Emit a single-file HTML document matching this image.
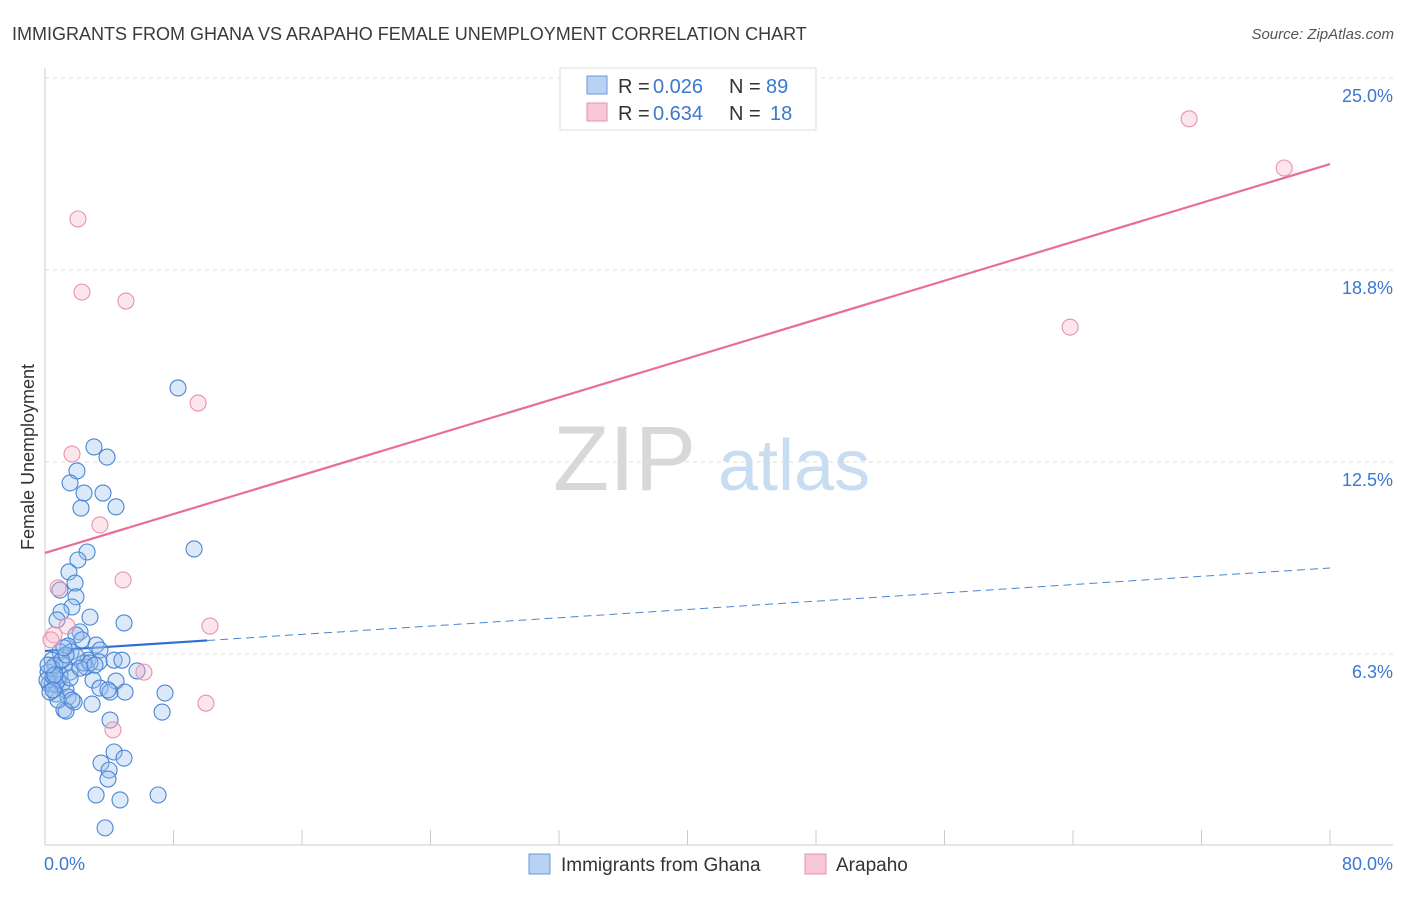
<!DOCTYPE html>
<html><head><meta charset="utf-8"><style>
body{margin:0;background:#fff;font-family:"Liberation Sans",sans-serif;}
svg text{font-family:"Liberation Sans",sans-serif;}
</style></head><body>
<svg id="chart" width="1406" height="892" xmlns="http://www.w3.org/2000/svg">
<text x="12" y="40" font-size="18" fill="#3a3a3a">IMMIGRANTS FROM GHANA VS ARAPAHO FEMALE UNEMPLOYMENT CORRELATION CHART</text>
<text x="1394" y="39" font-size="15" fill="#555" text-anchor="end" font-style="italic">Source: ZipAtlas.com</text>
<g>
<text x="553" y="490" font-size="92" fill="#d8d8d8" font-family="Liberation Serif">ZIP</text>
<text x="718" y="490" font-size="72" fill="#c8dcf2">atlas</text>
</g>
<g id="grid"></g>
<g id="axes"></g>
<g id="lines"></g>
<g id="pts"></g>
<text transform="translate(34,457) rotate(-90)" font-size="18" fill="#333" text-anchor="middle">Female Unemployment</text>
<g>
<rect x="560" y="68" width="256" height="62" fill="#fff" stroke="#ddd"/>
<rect x="587" y="76" width="20" height="18" fill="#b8d2f4" stroke="#6a9ad8"/>
<rect x="587" y="103" width="20" height="18" fill="#f8c8d6" stroke="#e890aa"/>
<text x="618" y="93" font-size="20" fill="#333">R =</text>
<text x="653" y="93" font-size="20" fill="#3b78d0">0.026</text>
<text x="729" y="93" font-size="20" fill="#333">N =</text>
<text x="766" y="93" font-size="20" fill="#3b78d0">89</text>
<text x="618" y="120" font-size="20" fill="#333">R =</text>
<text x="653" y="120" font-size="20" fill="#3b78d0">0.634</text>
<text x="729" y="120" font-size="20" fill="#333">N =</text>
<text x="770" y="120" font-size="20" fill="#3b78d0">18</text>
</g>
<g>
<rect x="529" y="854" width="21" height="20" fill="#b8d2f4" stroke="#6a9ad8"/>
<text x="561" y="871" font-size="19" fill="#333">Immigrants from Ghana</text>
<rect x="805" y="854" width="21" height="20" fill="#f8c8d6" stroke="#e890aa"/>
<text x="836" y="871" font-size="19" fill="#333">Arapaho</text>
</g>
</svg>
<script>
const yTicks=[6.25,12.5,18.75,25];
const yTickLabels=["6.3%","12.5%","18.8%","25.0%"];
const xTickLabels=["0.0%","80.0%"];
const blueX=[8.28,3.05,3.86,1.99,1.56,2.43,3.61,2.24,4.42,9.28,2.62,2.05,1.49,1.87,0.93,1.93,1.68,1.00,2.80,4.92,0.75,2.18,1.93,2.30,3.18,1.43,3.42,0.93,1.62,0.44,2.68,4.30,4.79,3.36,1.18,0.62,2.55,5.73,1.56,0.19,0.93,2.99,4.42,0.25,0.44,0.68,1.06,3.42,1.31,4.05,4.98,3.92,7.47,0.68,1.43,1.81,2.93,1.18,1.31,7.29,4.05,4.30,3.49,4.92,3.99,3.92,3.18,4.67,7.04,3.74,0.44,0.81,0.12,0.50,1.56,2.43,2.80,1.06,1.93,1.31,0.62,0.81,0.31,1.18,2.18,1.68,3.11,0.19,0.50];
const blueY=[14.91,12.99,12.66,12.21,11.82,11.49,11.49,11.00,11.04,9.67,9.57,9.31,8.92,8.56,8.33,8.11,7.78,7.62,7.45,7.26,7.36,6.97,6.87,6.71,6.54,6.51,6.38,6.32,6.32,6.05,6.05,6.05,6.05,5.99,5.89,5.89,5.83,5.70,5.66,5.66,5.57,5.40,5.37,5.27,5.27,5.27,5.27,5.14,5.08,5.01,5.01,5.08,4.98,4.95,4.85,4.69,4.62,4.43,4.39,4.36,4.10,3.06,2.70,2.86,2.47,2.18,1.66,1.50,1.66,0.59,5.79,5.40,5.40,5.53,5.47,5.96,5.96,6.05,6.18,6.22,5.57,4.75,5.01,6.45,5.79,4.75,5.89,5.89,5.08];
const pinkX=[2.05,2.30,5.04,9.53,1.68,3.42,4.86,0.81,1.37,10.27,0.56,6.16,10.02,4.23,71.23,77.15,63.82,0.37];
const pinkY=[20.41,18.03,17.74,14.42,12.76,10.45,8.66,8.40,7.16,7.16,6.87,5.66,4.65,3.78,23.67,22.07,16.89,6.71];
const blueTrend=[6.35,9.05];
const pinkTrend=[9.54,22.2];
const blueSolidEnd=10.1;

const NS="http://www.w3.org/2000/svg";
const X=v=>45+v*(1285/80);
const Y=v=>846-v*30.72;
function mk(tag,attrs,parent){const e=document.createElementNS(NS,tag);for(const k in attrs)e.setAttribute(k,attrs[k]);parent.appendChild(e);return e;}
const grid=document.getElementById('grid'),axes=document.getElementById('axes'),lines=document.getElementById('lines'),pts=document.getElementById('pts');
yTicks.forEach((t,i)=>{
  const l=mk('line',{x1:45,x2:1393,y1:Y(t),y2:Y(t),stroke:'#ddd','stroke-dasharray':'4,4'},grid);
  
  
  const tx=mk('text',{x:1393,y:Y(t)+24,'font-size':18,fill:'#3b78d0','text-anchor':'end'},grid);
  tx.textContent=yTickLabels[i];
  
  
});
mk('line',{x1:45,x2:45,y1:68,y2:845,stroke:'#ccc'},axes);
mk('line',{x1:45,x2:1393,y1:845,y2:845,stroke:'#ccc'},axes);
for(let i=0;i<=10;i++){
  const tk=mk('line',{x1:X(i*8),x2:X(i*8),y1:830,y2:845,stroke:'#ccc'},axes);
  
  
}
[[0,'start',44],[80,'end',1393]].forEach((d,i)=>{
  const tx=mk('text',{x:d[2],y:870,'font-size':18,fill:'#3b78d0','text-anchor':d[1]},axes);
  tx.textContent=xTickLabels[i];
  
  
});
function drawPts(xs,ys,fill,stroke,name){
  xs.forEach((x,i)=>{
    const c=mk('circle',{cx:X(x),cy:Y(ys[i]),r:8,fill:fill,'fill-opacity':0.35,stroke:stroke,'stroke-width':1.1},pts);
    
    
  });
}
drawPts(blueX,blueY,'#9cc0ee','#4a85d4','ghana-point');
drawPts(pinkX,pinkY,'#f6b6c8','#e892ae','arapaho-point');
const bAt=x=>blueTrend[0]+(blueTrend[1]-blueTrend[0])*x/80;
const pl=mk('line',{x1:X(0),y1:Y(pinkTrend[0]),x2:X(80),y2:Y(pinkTrend[1]),stroke:'#e86e98','stroke-width':2.2},lines);


const bl=mk('line',{x1:X(0),y1:Y(bAt(0)),x2:X(blueSolidEnd),y2:Y(bAt(blueSolidEnd)),stroke:'#2f6fd0','stroke-width':2.2},lines);


const bd=mk('line',{x1:X(blueSolidEnd),y1:Y(bAt(blueSolidEnd)),x2:X(80),y2:Y(bAt(80)),stroke:'#4a85d4','stroke-width':1,'stroke-dasharray':'8,5'},lines);


</script>
</body></html>
